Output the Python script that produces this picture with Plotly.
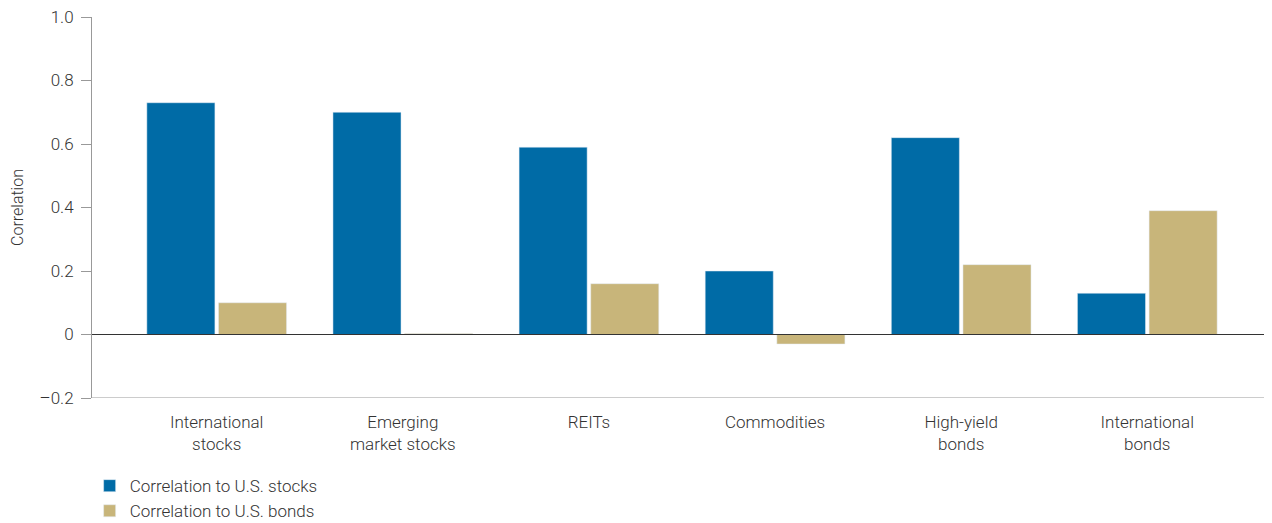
import plotly.graph_objects as go

categories = ["International<br>stocks", "Emerging<br>market stocks", "REITs", "Commodities", "High-yield<br>bonds", "International<br>bonds"]
stocks = [0.73, 0.70, 0.59, 0.20, 0.62, 0.13]
bonds = [0.10, 0.003, 0.16, -0.03, 0.22, 0.39]
yticks = [-0.2, 0, 0.2, 0.4, 0.6, 0.8, 1.0]
ytext = ["\u20130.2", "0", "0.2", "0.4", "0.6", "0.8", "1.0"]

x = list(range(len(categories)))
fig = go.Figure()
fig.add_bar(x=x, y=stocks, name="Correlation to U.S. stocks", marker_color="#006BA6")
fig.add_bar(x=x, y=bonds, name="Correlation to U.S. bonds", marker_color="#C8B57A")
fig.update_layout(
    width=1264, height=515, barmode="group", bargap=0.23, bargroupgap=0.05,
    margin=dict(l=84, r=0, t=9, b=125, autoexpand=False),
    plot_bgcolor="white", paper_bgcolor="white",
    font=dict(family="Roboto", size=17, color="#333333", weight=300),
    legend=dict(x=-0.002, y=-0.184, xanchor="left", yanchor="top", xref="paper", yref="paper",
                font=dict(size=17, weight=300), tracegroupgap=0, traceorder="normal"),
    xaxis=dict(range=[-0.67, 5.67], tickvals=x, ticktext=categories, showgrid=False,
               showline=False, ticks="", zeroline=False, ticklabelstandoff=12),
    yaxis=dict(range=[-0.2, 1.0], tickvals=yticks, ticktext=ytext, showgrid=False,
               showline=True, linecolor="#999999", ticks="outside", ticklen=10, tickcolor="#999999",
               ticklabeloverflow="allow", ticklabelstandoff=4,
               zeroline=False, title=dict(text="Correlation", standoff=16, font=dict(size=16, weight=300))),
    shapes=[
        dict(type="line", xref="paper", x0=0, x1=1, yref="y", y0=0, y1=0, line=dict(color="#333333", width=1)),
        dict(type="line", xref="paper", x0=0, x1=1, yref="y", y0=-0.2, y1=-0.2, line=dict(color="#999999", width=1)),
    ],
)
fig.write_html("out.html")
